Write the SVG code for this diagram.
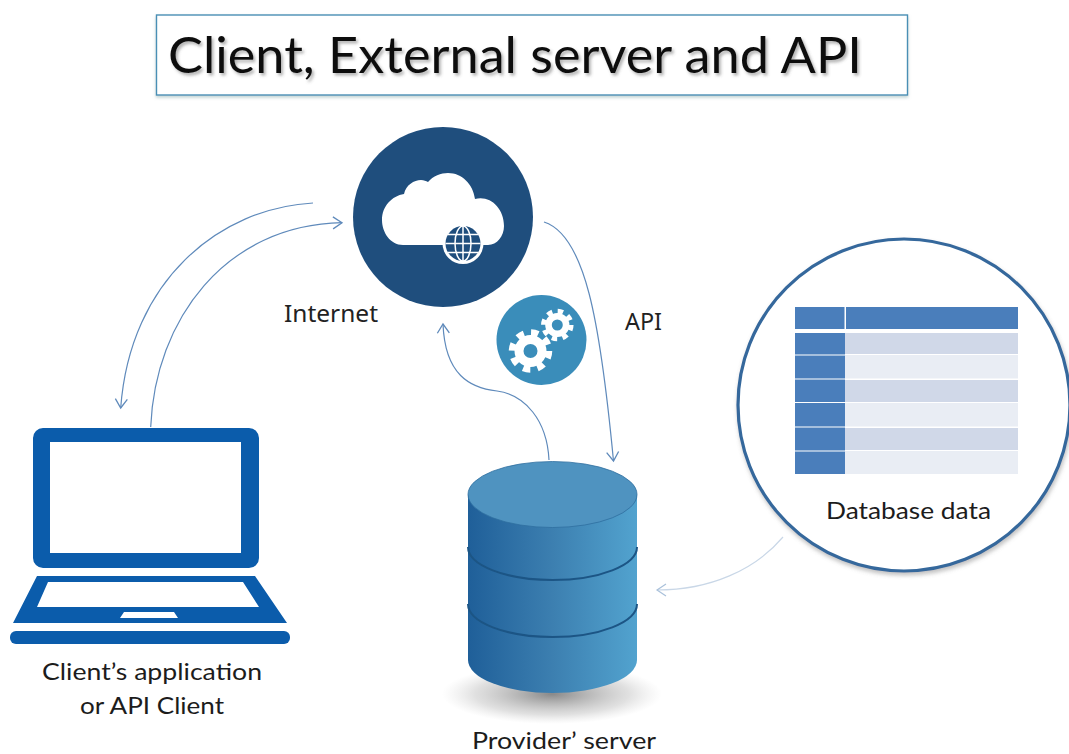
<svg xmlns="http://www.w3.org/2000/svg" width="1069" height="754" viewBox="0 0 1069 754">
<style>
.t{font-family:"Noto Sans","Open Sans",sans-serif;font-size:23px;fill:#222}
.l{font-family:Lato,"Noto Sans",sans-serif;font-size:23px;fill:#1c1c1c}
.c{fill:none;stroke:#5f8abb;stroke-width:1.2}
.h{fill:#4a7ebb}.r1{fill:#d0d8e8}.r2{fill:#e9edf4}
.lap{fill:#0b5cab}
.gr{fill:none;stroke:#fff}
</style>
<defs>
<marker id="a" markerUnits="userSpaceOnUse" markerWidth="18" markerHeight="18" refX="15" refY="8" orient="auto"><path d="M6,2 L15,8 L6,14" fill="none" stroke="#5f8abb" stroke-width="1.300"/></marker>
<marker id="b" markerUnits="userSpaceOnUse" markerWidth="18" markerHeight="18" refX="15" refY="8" orient="auto"><path d="M6,2 L15,8 L6,14" fill="none" stroke="#a9c0da" stroke-width="1.200"/></marker>
<linearGradient id="cyl" x1="0" x2="1" y1="0" y2="0"><stop offset="0" stop-color="#1f5f99"/><stop offset=".5" stop-color="#3c7fb0"/><stop offset="1" stop-color="#52a3cf"/></linearGradient>
<radialGradient id="sh"><stop offset="0" stop-color="#555" stop-opacity=".7"/><stop offset=".7" stop-color="#999" stop-opacity=".3"/><stop offset="1" stop-color="#bbb" stop-opacity="0"/></radialGradient>
<filter id="ds" x="-5%" y="-5%" width="110%" height="110%"><feDropShadow dx="1" dy="3" stdDeviation="2" flood-color="#777" flood-opacity=".45"/></filter>
<filter id="ts" x="-5%" y="-20%" width="110%" height="140%"><feDropShadow dx="2" dy="2.500" stdDeviation="1.800" flood-color="#555" flood-opacity=".45"/></filter>
<filter id="bs" x="-2%" y="-10%" width="104%" height="125%"><feDropShadow dx="0" dy="2" stdDeviation="1.500" flood-color="#8aa" flood-opacity=".5"/></filter>
</defs>
<rect width="1069" height="754" fill="#fff"/>
<g id="title"><rect x="156.500" y="15" width="751" height="80" fill="#fff" stroke="#4a8fb5" stroke-width="1.400" filter="url(#bs)"/>
<text x="168" y="73" font-family="Lato,'Open Sans',sans-serif" font-size="51" fill="#111" textLength="694" lengthAdjust="spacingAndGlyphs" filter="url(#ts)">Client, External server and API</text></g>
<g id="connectors">
<path class="c" d="M313,203C220,208 130,280 120.700,408" marker-end="url(#a)"/>
<path class="c" d="M150.700,427C155,320 225,225 342,222.700" marker-end="url(#a)"/>
<path class="c" d="M544,222C585,235 600,320 613.500,461" marker-end="url(#a)"/>
<path class="c" d="M549,460C547,420 525,395 497,391C470,388 445,375 443,324" marker-end="url(#a)"/>
<path class="c" d="M783,537C755,570 710,590 657,590" style="stroke:#c9d7e7" marker-end="url(#b)"/>
</g>
<g id="internet">
<circle cx="443" cy="217" r="90" fill="#1f4e7d"/>
<path d="M403,245C390,245 382,232 382,220C382,206 392,196 404,194C406,185 414,180 421,180C424,180 426,181 428,182C433,176 441,173 448,173C462,173 473,184 475,199C490,195 504,208 504,226C504,236 497,245 488,245Z" fill="#fff"/>
<circle cx="463" cy="243.500" r="20.500" fill="#fff"/>
<circle cx="463" cy="243.500" r="17.500" fill="#1f4e7d"/>
<g fill="none" stroke="#fff" stroke-width="1.500"><ellipse cx="463" cy="243.500" rx="8" ry="17.500"/><path d="M463,226V261M445.500,243.500H480.500M448,234.500H478M448,252.500H478"/></g>
<text class="t" x="284" y="322" textLength="94" lengthAdjust="spacingAndGlyphs">Internet</text>
</g>
<g id="gears">
<circle cx="541.500" cy="340" r="45" fill="#3a8dba"/>
<circle class="gr" cx="530.500" cy="351" r="11.500" stroke-width="9"/>
<circle class="gr" cx="530.500" cy="351" r="18" stroke-width="7.500" stroke-dasharray="7.100 7.040"/>
<circle class="gr" cx="557.300" cy="325" r="8.800" stroke-width="6.600"/>
<circle class="gr" cx="557.300" cy="325" r="13.500" stroke-width="5.500" stroke-dasharray="5.300 5.300"/>
</g>
<text class="t" x="625" y="330" textLength="37" lengthAdjust="spacingAndGlyphs">API</text>
<g id="database-data">
<circle cx="904" cy="405" r="166" fill="#fff" stroke="#35689c" stroke-width="3.200" filter="url(#ds)"/>
<rect class="h" x="795" y="307" width="49.500" height="22"/><rect class="h" x="846" y="307" width="172" height="22"/>
<rect class="h" x="795" y="333" width="50" height="141"/>
<g fill="#fff"><rect x="795" y="354.500" width="50" height="1"/><rect x="795" y="378.500" width="50" height="1"/><rect x="795" y="402" width="50" height="1"/><rect x="795" y="426.500" width="50" height="1"/><rect x="795" y="450.500" width="50" height="1"/></g>
<rect class="r1" x="845" y="333" width="173" height="21"/><rect class="r2" x="845" y="355" width="173" height="23.500"/>
<rect class="r1" x="845" y="380" width="173" height="22"/><rect class="r2" x="845" y="403" width="173" height="23.500"/>
<rect class="r1" x="845" y="428" width="173" height="22"/><rect class="r2" x="845" y="451" width="173" height="23"/>
<text class="l" x="826" y="519" textLength="165" lengthAdjust="spacingAndGlyphs">Database data</text>
</g>
<g id="provider-server">
<ellipse cx="552" cy="694" rx="110" ry="30" fill="url(#sh)"/>
<path d="M468,494V660A84.500,33 0 0 0 637,660V494Z" fill="url(#cyl)"/>
<path d="M468,604A84.500,33 0 0 0 637,604" fill="none" stroke="#1c5585" stroke-width="2"/>
<path d="M468,547A84.500,33 0 0 0 637,547" fill="none" stroke="#1c5585" stroke-width="2"/>
<ellipse cx="552.500" cy="494.500" rx="84.500" ry="33" fill="#4f93c0" stroke="#2f6f9f" stroke-width=".8"/>
<text class="l" x="472" y="749" textLength="184" lengthAdjust="spacingAndGlyphs">Provider’ server</text>
</g>
<g id="client">
<path class="lap" fill-rule="evenodd" d="M43,428H249A10,10 0 0 1 259,438V558A10,10 0 0 1 249,568H43A10,10 0 0 1 33,558V438A10,10 0 0 1 43,428ZM50,442V553H241V442Z"/>
<path class="lap" fill-rule="evenodd" d="M37,576H255L287,623H13ZM48,582L37,607H259L243,582ZM124,612L120,618H178L174,612Z"/>
<rect class="lap" x="10" y="631" width="280" height="13" rx="6"/>
<text class="l" x="42" y="680" textLength="220" lengthAdjust="spacingAndGlyphs">Client’s application</text>
<text class="l" x="80" y="714" textLength="144" lengthAdjust="spacingAndGlyphs">or API Client</text>
</g>
</svg>
